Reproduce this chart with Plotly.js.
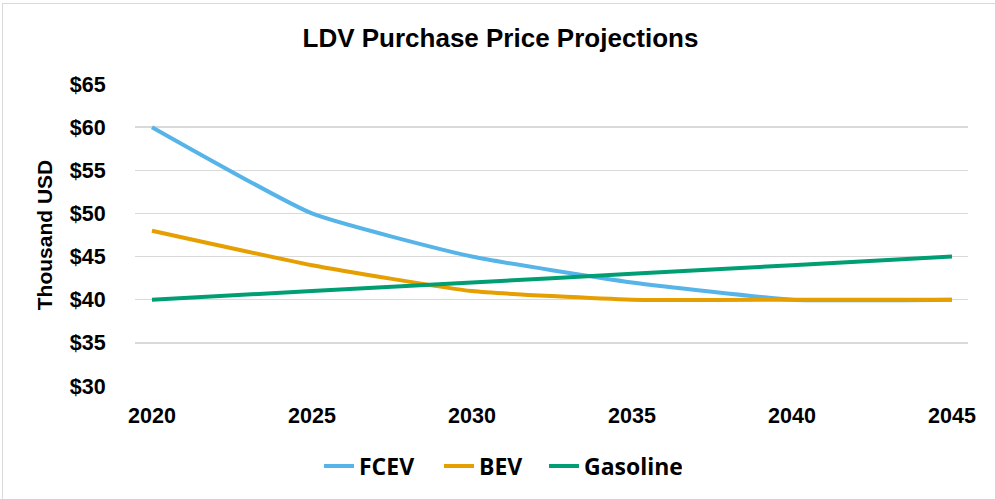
<!DOCTYPE html>
<html>
<head>
<meta charset="utf-8">
<script src="https://cdn.plot.ly/plotly-3.0.1.min.js"></script>
<style>
html,body{margin:0;padding:0;background:#fff;}
#wrap{position:absolute;left:0;top:0;width:995px;height:499px;}
#chart{width:995px;height:499px;}
#frame{position:absolute;left:2px;top:3px;width:1000px;height:500px;border:1.5px solid #d9d9d9;pointer-events:none;}
</style>
</head>
<body>
<div id="wrap"><div id="chart"></div><div id="frame"></div></div>
<script>
const years = [2020, 2025, 2030, 2035, 2040, 2045];
const fcev = [60, 50, 45, 42, 40, 40];
const bev = [48, 44, 41, 40, 40, 40];
const gasoline = [40, 41, 42, 43, 44, 45];
const yTicks = [30, 35, 40, 45, 50, 55, 60, 65];
const yTickText = yTicks.map(v => '$' + v);

function series(name, y, color, lw) {
  return {x: years, y: y, name: name, type: 'scatter', mode: 'lines', legendwidth: lw,
    line: {color: color, width: 4, shape: 'spline', smoothing: 0.45}};
}
const data = [
  series('FCEV', fcev, '#56B4E9', 75),
  series('BEV', bev, '#E69F00', 60),
  series('Gasoline', gasoline, '#009E73', 93)
];
const tickFont = {family: 'Liberation Sans, Arial, sans-serif', size: 21.5, color: '#000', weight: 'bold'};
const layout = {
  width: 995, height: 499,
  margin: {l: 135, r: 27, t: 84, b: 113},
  paper_bgcolor: '#fff', plot_bgcolor: '#fff',
  showlegend: true,
  title: {text: '<b>LDV Purchase Price Projections</b>', xref: 'container', x: 0.503, y: 0.925, yanchor: 'middle',
    font: {family: 'Liberation Sans, Arial, sans-serif', size: 26, color: '#000'}},
  xaxis: {range: [2019.47, 2045.5], tickvals: years, showgrid: false, zeroline: false, showline: false,
    ticks: 'outside', ticklen: 10, tickcolor: 'rgba(0,0,0,0)', tickfont: tickFont, fixedrange: true},
  yaxis: {range: [30, 65], tickvals: yTicks, ticktext: yTickText, showgrid: true, gridcolor: '#d9d9d9', gridwidth: 1.5,
    zeroline: false, showline: false, ticks: 'outside', ticklen: 24, tickcolor: 'rgba(0,0,0,0)', tickfont: tickFont,
    title: {text: '<b>Thousand USD</b>', standoff: 11, font: {family: 'Liberation Sans, Arial, sans-serif', size: 21, color: '#000'}}},
  legend: {orientation: 'h', xref: 'container', yref: 'container', x: 0.503, xanchor: 'center', y: 0.066, yanchor: 'middle',
    font: {family: 'Open Sans, Noto Sans, sans-serif', size: 23, color: '#000', weight: 'bold'}, itemwidth: 30}
};
Plotly.newPlot('chart', data, layout, {displayModeBar: false, staticPlot: true});
</script>
</body>
</html>
